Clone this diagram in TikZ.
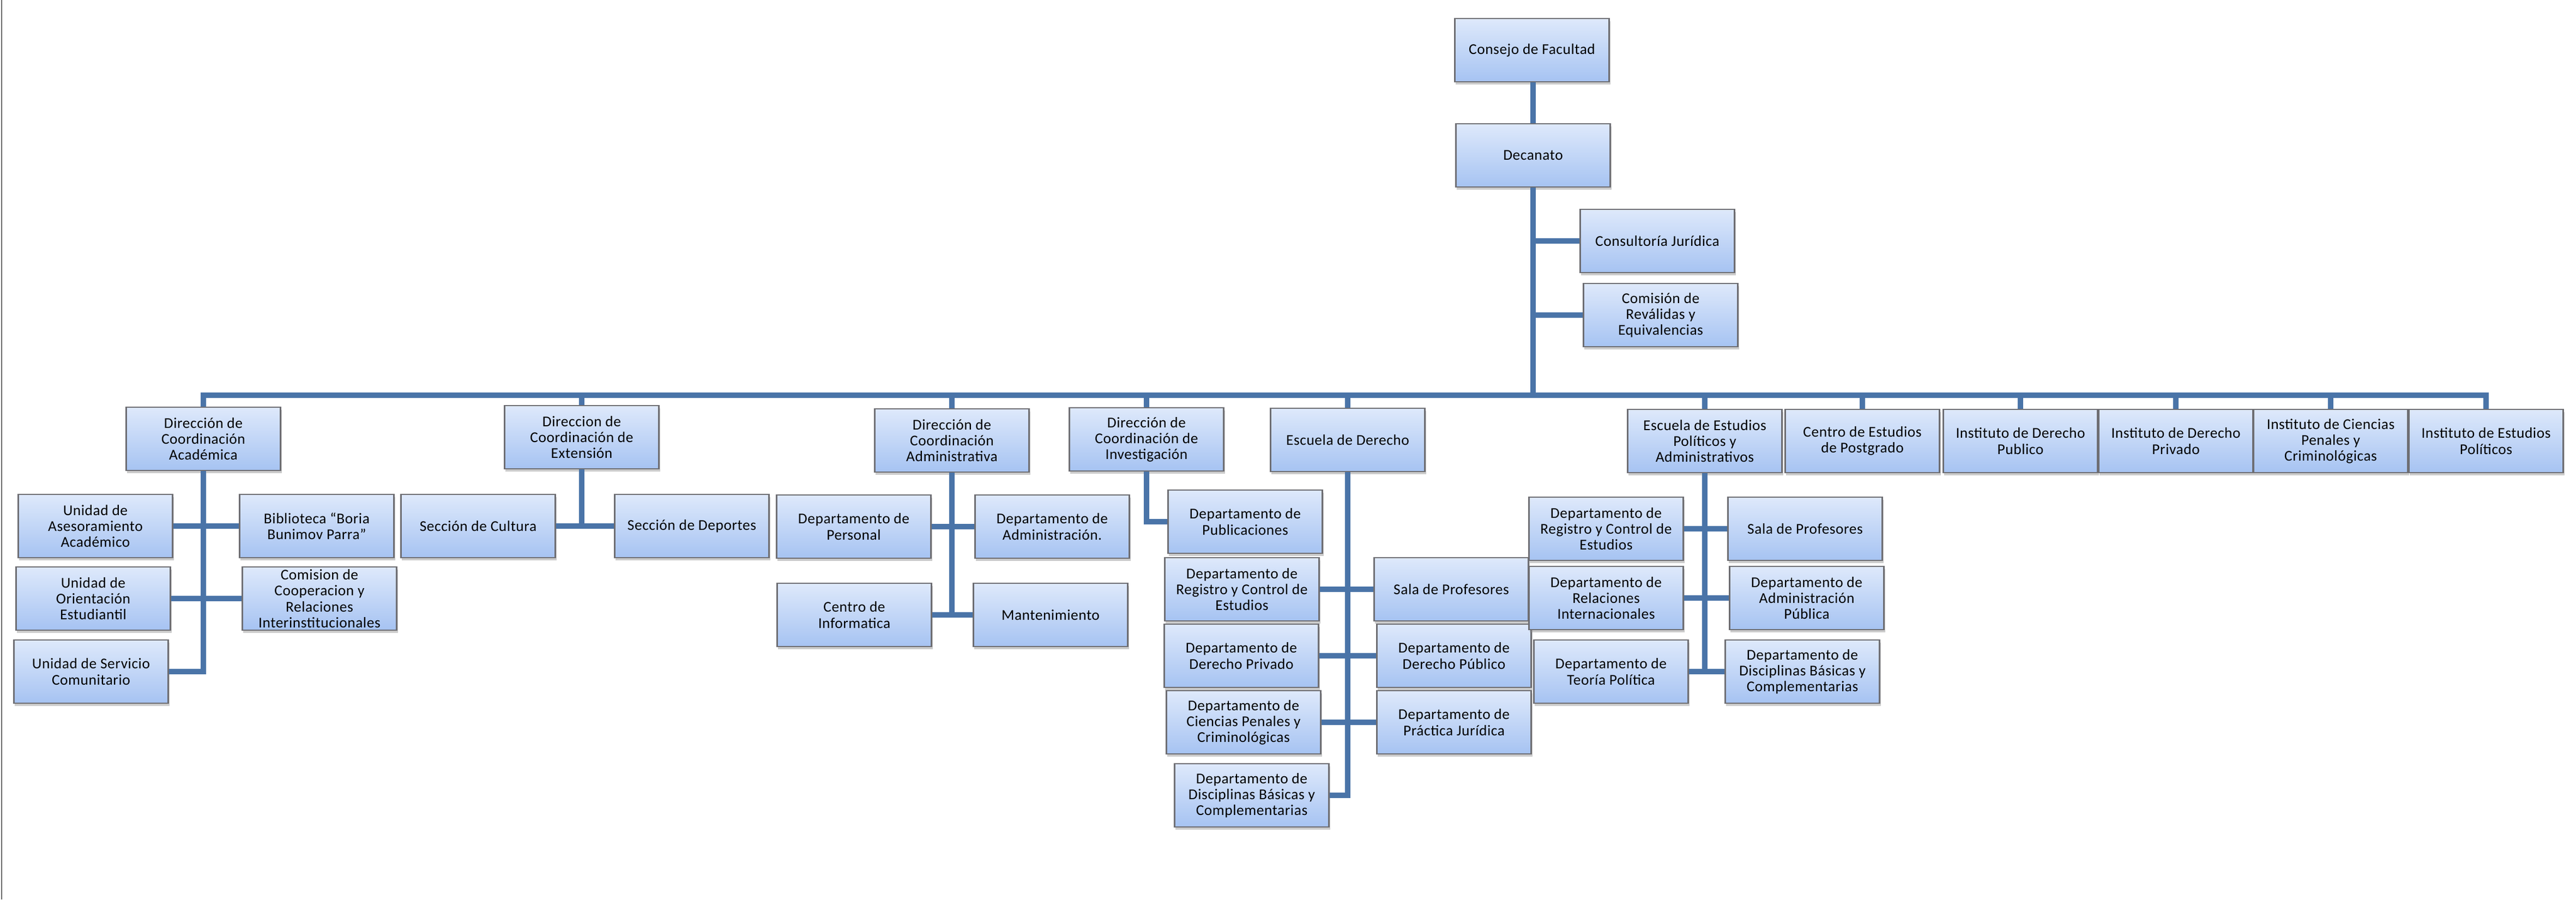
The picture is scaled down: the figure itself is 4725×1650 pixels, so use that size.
\documentclass[tikz,border=0pt]{standalone}
\usepackage{fontspec}
\setmainfont{Carlito}[LetterSpace=2]
\usetikzlibrary{shadows}
\definecolor{linec}{RGB}{74,116,168}
\definecolor{boxtop}{RGB}{222,233,251}
\definecolor{boxbot}{RGB}{166,195,242}
\definecolor{boxline}{RGB}{110,110,115}
\tikzset{
  bx/.style={draw=boxline, line width=0.7pt, top color=boxtop, bottom color=boxbot,
    minimum width=2.83cm, minimum height=1.16cm, inner xsep=0pt, inner ysep=1pt, align=center,
    font=\fontsize{7.8}{8.3}\selectfont, text=black,
    drop shadow={shadow xshift=0.02cm, shadow yshift=-0.05cm, fill=black!45, opacity=0.45}},
  conn/.style={draw=linec, line width=0.1cm}
}
\begin{document}
\begin{tikzpicture}[x=0.01cm,y=-0.01cm]
\useasboundingbox (0,0) rectangle (4725,1650);
\fill[white] (0,0) rectangle (4725,1650);
\draw[black!60, line width=0.8pt] (3,0) -- (3,1650);
\coordinate (busy) at (0,725);
% top level
\node[bx] (consejo) at (2810,92) {Consejo de Facultad};
\node[bx] (decanato) at (2812,285) {Decanato};
\node[bx] (consult) at (3040,442) {Consultoría Jurídica};
\node[bx] (comrev) at (3046,578) {Comisión de\\Reválidas y\\Equivalencias};
% second level
\node[bx] (dacad) at (373,805) {Dirección de\\Coordinación\\Académica};
\node[bx] (dext) at (1067,802) {Direccion de\\Coordinación de\\Extensión};
\node[bx] (dadm) at (1746,808) {Dirección de\\Coordinación\\Administrativa};
\node[bx] (dinv) at (2103,806) {Dirección de\\Coordinación de\\Investigación};
\node[bx] (escder) at (2472,807) {Escuela de Derecho};
\node[bx] (epa) at (3127,809) {Escuela de Estudios\\Políticos y\\Administrativos};
\node[bx] (postg) at (3416,809) {Centro de Estudios\\de Postgrado};
\node[bx] (idpub) at (3706,809) {Instituto de Derecho\\Publico};
\node[bx] (idpriv) at (3991,809) {Instituto de Derecho\\Privado};
\node[bx] (icp) at (4275,809) {Instituto de Ciencias\\Penales y\\Criminológicas};
\node[bx] (iep) at (4560,809) {Instituto de Estudios\\Políticos};
% academica
\node[bx] (unase) at (175,965) {Unidad de\\Asesoramiento\\Académico};
\node[bx] (bibl) at (581,965) {Biblioteca ``Boria\\Bunimov Parra''};
\node[bx] (unori) at (171,1098) {Unidad de\\Orientación\\Estudiantil};
\node[bx] (comcoop) at (586,1098) {Comision de\\Cooperacion y\\Relaciones\\Interinstitucionales};
\node[bx] (unserv) at (167,1232) {Unidad de Servicio\\Comunitario};
% extension
\node[bx] (cultura) at (877,965) {Sección de Cultura};
\node[bx] (deportes) at (1269,965) {Sección de Deportes};
% administrativa
\node[bx] (personal) at (1566,966) {Departamento de\\Personal};
\node[bx] (depadm) at (1930,966) {Departamento de\\Administración.};
\node[bx] (centinf) at (1567,1128) {Centro de\\Informatica};
\node[bx] (mant) at (1927,1128) {Mantenimiento};
% investigacion
\node[bx] (publ) at (2284,957) {Departamento de\\Publicaciones};
% escuela de derecho
\node[bx] (regder) at (2278,1081) {Departamento de\\Registro y Control de\\Estudios};
\node[bx] (salader) at (2662,1081) {Sala de Profesores};
\node[bx] (derpriv) at (2277,1203) {Departamento de\\Derecho Privado};
\node[bx] (derpub) at (2667,1203) {Departamento de\\Derecho Público};
\node[bx] (cienpen) at (2281,1325) {Departamento de\\Ciencias Penales y\\Criminológicas};
\node[bx] (practica) at (2667,1325) {Departamento de\\Práctica Jurídica};
\node[bx] (discder) at (2296,1459) {Departamento de\\Disciplinas Básicas y\\Complementarias};
% escuela EPA
\node[bx] (regepa) at (2946,970) {Departamento de\\Registro y Control de\\Estudios};
\node[bx] (salaepa) at (3311,970) {Sala de Profesores};
\node[bx] (relint) at (2946,1097) {Departamento de\\Relaciones\\Internacionales};
\node[bx] (admpub) at (3314,1097) {Departamento de\\Administración\\Pública};
\node[bx] (teoria) at (2955,1232) {Departamento de\\Teoría Política};
\node[bx] (discepa) at (3306,1232) {Departamento de\\Disciplinas Básicas y\\Complementarias};
% connectors
\draw[conn] (decanato.north) -- (decanato.north |- consejo.south);
\draw[conn] (decanato.south) -- (decanato.south |- busy);
\draw[conn] (consult.west) -- (consult.west -| decanato.south);
\draw[conn] (comrev.west) -- (comrev.west -| decanato.south);
\draw[conn, line cap=rect] (dacad.north |- busy) -- (iep.north |- busy);
\foreach \n in {dacad,dext,dadm,dinv,escder,epa,postg,idpub,idpriv,icp,iep}
  \draw[conn] (\n.north) -- (\n.north |- busy);
\draw[conn] (dacad.south) |- (unserv.east);
\draw[conn] (unase.east) -- (bibl.west);
\draw[conn] (unori.east) -- (comcoop.west);
\draw[conn] (dext.south) -- (dext.south |- cultura.east);
\draw[conn] (cultura.east) -- (deportes.west);
\draw[conn] (dadm.south) -- (dadm.south |- centinf.east);
\draw[conn] (personal.east) -- (depadm.west);
\draw[conn] (centinf.east) -- (mant.west);
\draw[conn] (dinv.south) |- (publ.west);
\draw[conn] (escder.south) |- (discder.east);
\draw[conn] (regder.east) -- (salader.west);
\draw[conn] (derpriv.east) -- (derpub.west);
\draw[conn] (cienpen.east) -- (practica.west);
\draw[conn] (epa.south) -- (epa.south |- teoria.east);
\draw[conn] (regepa.east) -- (salaepa.west);
\draw[conn] (relint.east) -- (admpub.west);
\draw[conn] (teoria.east) -- (discepa.west);
\end{tikzpicture}
\end{document}
